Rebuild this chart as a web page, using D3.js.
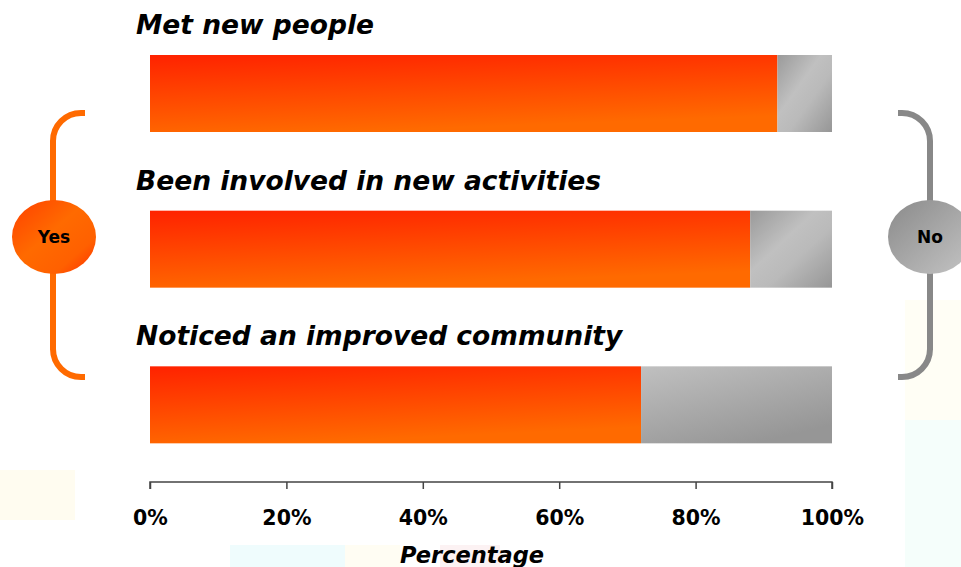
<!DOCTYPE html>
<head>
	<meta charset="utf-8">
	<title>Yes / No survey bars</title>
	<script src="https://d3js.org/d3.v7.min.js"></script>
	<style>
		body { margin: 0; background: #fff; }
		text { font-family: "DejaVu Sans", Verdana, sans-serif; font-weight: bold; fill: #000; }
		.title { font-size: 26.5px; font-style: italic; }
		.tick text { font-size: 20.5px; }
		.tick line, .domain { stroke: #444; stroke-width: 1.5px; }
	</style>
</head>
<body>
<div id="viz"></div>
<script>
// data
var questions = ["Met new people", "Been involved in new activities", "Noticed an improved community"];
var yesValues = [92, 88, 72];
var noValues = [8, 12, 28];
var tickValues = [0, 20, 40, 60, 80, 100];

var width = 961, height = 567;

var svg = d3.select("#viz").append("svg")
	.attr("width", width)
	.attr("height", height);

var defs = svg.append("defs");

var orange = defs.append("linearGradient")
	.attr("id", "orangeGrad")
	.attr("x1", 0).attr("y1", 0).attr("x2", 0.3).attr("y2", 1);
orange.append("stop").attr("offset", "0%").attr("stop-color", "#ff2200");
orange.append("stop").attr("offset", "100%").attr("stop-color", "#ff6a00");

var gray = defs.append("linearGradient")
	.attr("id", "grayGrad")
	.attr("x1", 0).attr("y1", 0).attr("x2", 1).attr("y2", 1);
gray.append("stop").attr("offset", "0%").attr("stop-color", "#9a9a9a");
gray.append("stop").attr("offset", "40%").attr("stop-color", "#c0c0c0");
gray.append("stop").attr("offset", "60%").attr("stop-color", "#bababa");
gray.append("stop").attr("offset", "100%").attr("stop-color", "#969696");

var grayWide = defs.append("linearGradient")
	.attr("id", "grayWide")
	.attr("x1", 0).attr("y1", 0).attr("x2", 0.6).attr("y2", 1);
grayWide.append("stop").attr("offset", "0%").attr("stop-color", "#c0c0c0");
grayWide.append("stop").attr("offset", "100%").attr("stop-color", "#969696");

var ballOrange = defs.append("linearGradient")
	.attr("id", "ballOrange")
	.attr("x1", 0).attr("y1", 0).attr("x2", 1).attr("y2", 1);
ballOrange.append("stop").attr("offset", "0%").attr("stop-color", "#ff4000");
ballOrange.append("stop").attr("offset", "45%").attr("stop-color", "#ff6a00");
ballOrange.append("stop").attr("offset", "75%").attr("stop-color", "#ff6000");
ballOrange.append("stop").attr("offset", "100%").attr("stop-color", "#ff3000");

var ballGray = defs.append("linearGradient")
	.attr("id", "ballGray")
	.attr("x1", 0).attr("y1", 0).attr("x2", 1).attr("y2", 1);
ballGray.append("stop").attr("offset", "0%").attr("stop-color", "#8a8a8a");
ballGray.append("stop").attr("offset", "100%").attr("stop-color", "#c4c4c4");

// faint backdrop patches along the bottom
var patches = [
	[0, 470, 75, 50, "#fffcf0"], [230, 545, 115, 22, "#effcfd"], [345, 545, 55, 22, "#fffdf3"],
	[440, 545, 60, 22, "#fcf2f3"], [905, 300, 56, 120, "#fffef5"], [905, 420, 56, 147, "#f5fefb"]
];
svg.selectAll("rect.bg").data(patches).enter().append("rect")
	.attr("class", "bg")
	.attr("x", function(d) { return d[0]; })
	.attr("y", function(d) { return d[1]; })
	.attr("width", function(d) { return d[2]; })
	.attr("height", function(d) { return d[3]; })
	.attr("fill", function(d) { return d[4]; });

var x = d3.scaleLinear().domain([0, 100]).range([150, 832]);

var band = d3.scaleBand().domain(questions).range([-1, 466]).paddingInner(0).paddingOuter(0);
var barTop = 56, barH = 77;

var rows = svg.selectAll("g.row").data(questions).enter().append("g")
	.attr("class", "row")
	.attr("transform", function(d) { return "translate(0," + band(d) + ")"; });

rows.append("text")
	.attr("class", "title")
	.attr("x", 136)
	.attr("y", barTop - 21)
	.text(function(d) { return d; });

rows.append("rect")
	.attr("x", x(0))
	.attr("y", barTop)
	.attr("width", function(d, i) { return x(yesValues[i]) - x(0); })
	.attr("height", barH)
	.attr("fill", "url(#orangeGrad)");

rows.append("rect")
	.attr("x", function(d, i) { return x(yesValues[i]); })
	.attr("y", barTop)
	.attr("width", function(d, i) { return x(yesValues[i] + noValues[i]) - x(yesValues[i]); })
	.attr("height", barH)
	.attr("fill", function(d, i) { return noValues[i] > 20 ? "url(#grayWide)" : "url(#grayGrad)"; });

// axis
var axis = svg.append("g")
	.attr("transform", "translate(0,482)")
	.call(d3.axisBottom(x).tickValues(tickValues).tickSize(7).tickPadding(18)
		.tickFormat(function(d) { return d + "%"; }));
axis.selectAll(".tick text").attr("dy", "0.9em");
axis.select(".domain").attr("d", "M" + x(0) + ",7V0H" + x(100) + "V7");

svg.append("text")
	.attr("class", "title")
	.attr("x", 472)
	.attr("y", 563)
	.attr("text-anchor", "middle")
	.style("font-size", "22.5px")
	.text("Percentage");

// brackets
var bracket = d3.path();
bracket.moveTo(85, 113);
bracket.arcTo(53, 113, 53, 145, 28);
bracket.lineTo(53, 350);
bracket.arcTo(53, 377, 85, 377, 28);
bracket.lineTo(85, 377);
svg.append("path").attr("d", bracket.toString())
	.attr("fill", "none").attr("stroke", "#ff6a00").attr("stroke-width", 6);

var bracketR = d3.path();
bracketR.moveTo(898, 113);
bracketR.arcTo(930, 113, 930, 145, 28);
bracketR.lineTo(930, 350);
bracketR.arcTo(930, 377, 898, 377, 28);
bracketR.lineTo(898, 377);
svg.append("path").attr("d", bracketR.toString())
	.attr("fill", "none").attr("stroke", "#888").attr("stroke-width", 6);

svg.append("ellipse").attr("cx", 54).attr("cy", 237).attr("rx", 42).attr("ry", 37)
	.attr("fill", "url(#ballOrange)");
svg.append("text").attr("x", 54).attr("y", 243).attr("text-anchor", "middle")
	.style("font-size", "17px").text("Yes");

svg.append("ellipse").attr("cx", 930).attr("cy", 237).attr("rx", 42).attr("ry", 37)
	.attr("fill", "url(#ballGray)");
svg.append("text").attr("x", 930).attr("y", 243).attr("text-anchor", "middle")
	.style("font-size", "17px").text("No");
</script>
</body>
</html>
